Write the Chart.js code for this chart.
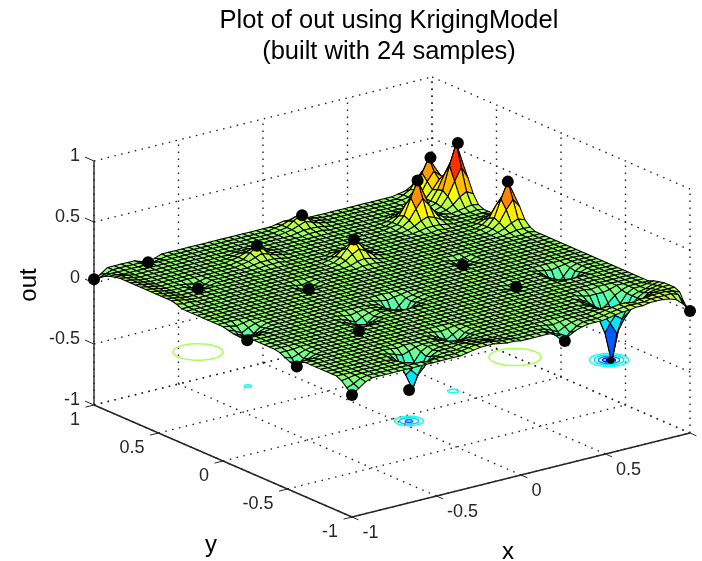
<!DOCTYPE html>
<html><head><meta charset="utf-8">
<style>html,body{margin:0;padding:0;background:#fff}canvas{display:block}</style>
<script src="https://cdn.jsdelivr.net/npm/chart.js@4"></script>
</head><body><canvas id="c" width="702" height="561"></canvas>
<script>
const titleLines = ['Plot of out using KrigingModel', '(built with 24 samples)'];
const xTicks = [-1, -0.5, 0, 0.5, 1];
const yTicks = [-1, -0.5, 0, 0.5, 1];
const zTicks = [-1, -0.5, 0, 0.5, 1];
const xTickLabels = ['-1', '-0.5', '0', '0.5', ''];
const yTickLabels = ['-1', '-0.5', '0', '0.5', '1'];
const zTickLabels = ['-1', '-0.5', '0', '0.5', '1'];

// black sample markers
const sampleX = [0.97, 0.93, 0.64, 0.96, 0.08, -0.28, 0.17, 0.73, -0.54, -0.91, -0.96, 0.29, -0.41, -0.2, -0.12, 0.76, -0.72, -0.31, 0.48, 0.46, -0.68, -1, -1, 1];
const sampleY = [0.76, 0.92, 0.64, 0.36, 0.4, 0.68, 0.92, -0.74, -0.84, -0.07, -0.52, -0.96, -0.28, -0.72, -0.2, -0.32, 0.56, 0.24, 0.08, -0.36, 1, 1, -1, -1];
const sampleZ = [0.58, 0.4, 0.44, 0.45, 0.26, 0.205, 0.19, -0.43, -0.19, -0.01, 0, -0.02, -0.01, -0.03, -0.1, -0.12, 0.06, 0.06, 0.06, 0.09, 0.06, 0.03, 0, 0];

// contour rings under the surface
const ringX = [-0.741, 0.408, -0.848, -0.12, -0.545, -0.545, -0.545, 0.736, 0.736, 0.736, 0.736, 0.736];
const ringY = [0.533, -0.419, 0.006, -0.63, -0.846, -0.846, -0.846, -0.718, -0.718, -0.718, -0.718, -0.718];
const ringR = [0.118, 0.123, 0.017, 0.025, 0.068, 0.045, 0.018, 0.092, 0.07, 0.05, 0.03, 0.014];
const ringLevel = [0.12, 0.12, -0.03, -0.02, -0.02, -0.1, -0.2, -0.02, -0.08, -0.16, -0.28, -0.42];
const contourPlane = -0.44;

// surface heights: flat level plus offsets in hundredths, one row per y from -1 to 1, columns x from -1 to 1
const flatLevel = 0.10;
const surfaceOffsets = [
[-10,-6,-2,0,0,0,0,0,0,0, 0,0,0,0,0,0,0,1,2,3, 3,3,2,1,1,0,0,0,0,0, -1,-3,-6,-3,-1,0,0,0,1,2, 3,3,4,4,5,5,5,4,2,-3,-10],
[-6,-4,-1,0,0,0,0,0,0,0, 0,0,-1,0,0,0,0,1,2,3, 3,3,2,1,1,0,0,0,0,0, -2,-6,-12,-6,-2,0,0,0,1,2, 3,4,4,4,4,5,5,5,5,3,-6],
[-2,-1,0,0,0,0,0,0,0,0, -1,-3,-5,-3,-1,0,0,0,1,2, 2,2,1,1,0,0,0,0,0,0, -1,-3,-6,-3,-1,0,0,0,1,2, 3,4,4,3,4,4,5,5,5,4,2],
[0,0,0,0,0,0,0,0,0,0, -3,-10,-16,-10,-3,0,0,0,1,1, 1,1,0,0,0,0,0,0,0,0, 0,-1,-2,-1,0,0,0,0,1,1, 2,-2,-3,-3,-3,-2,3,4,4,4,4],
[0,0,0,0,0,0,0,0,0,-1, -5,-16,-29,-16,-5,-1,0,0,0,0, 0,0,0,0,0,0,0,0,0,0, 0,0,0,0,0,0,0,0,0,0, -2,-5,-10,-14,-10,-5,-2,2,3,4,4],
[0,0,0,0,0,0,0,0,0,0, -3,-10,-16,-10,-3,0,0,0,0,-1, -2,-1,0,0,0,0,0,0,0,0, 0,0,0,0,0,0,0,0,0,0, -3,-10,-18,-28,-18,-10,-3,0,2,3,4],
[0,0,0,0,0,0,0,0,0,0, -1,-3,-5,-3,-1,0,0,0,-1,-4, -7,-4,-1,0,0,0,0,0,0,0, 0,0,0,0,0,0,0,0,0,-1, -3,-14,-28,-53,-28,-14,-3,-1,0,2,3],
[0,0,0,0,0,0,0,0,0,0, 0,0,-1,0,0,0,0,0,-2,-7, -13,-7,-2,0,0,0,0,0,0,0, 0,0,0,0,0,0,0,0,0,0, -3,-10,-18,-28,-18,-10,-3,0,0,1,2],
[0,0,0,0,0,0,0,0,0,0, 0,0,0,0,0,0,0,0,-1,-4, -7,-4,-1,0,0,0,0,0,0,0, 0,0,0,0,0,0,0,0,0,0, -2,-5,-10,-14,-10,-5,-2,0,0,0,0],
[0,0,0,0,0,0,0,0,0,0, 0,0,0,0,0,0,0,0,0,-1, -2,-1,0,0,0,0,0,0,0,0, 0,0,0,0,0,0,0,0,0,0, 0,-2,-3,-3,-3,-2,0,0,0,0,0],
[-1,-1,-1,0,0,0,0,0,0,0, 0,0,0,0,0,0,0,0,0,0, 0,0,0,0,0,0,0,0,0,0, 0,0,0,0,0,0,0,0,0,0, 0,0,0,-1,0,0,0,0,0,0,0],
[-3,-5,-3,-1,0,0,0,0,0,0, 0,0,0,0,0,0,0,0,0,0, 0,0,0,0,0,0,0,0,0,0, 0,0,0,0,0,0,0,0,0,0, 0,0,0,0,0,0,0,0,0,0,0],
[-5,-10,-5,-1,0,0,0,0,0,0, 0,0,0,0,0,0,0,0,0,0, 0,0,0,0,0,0,0,0,0,0, 0,0,0,0,0,0,0,0,0,0, 0,0,0,0,0,0,0,0,0,0,0],
[-3,-5,-3,-1,0,0,0,0,0,0, 0,0,0,0,0,0,0,0,0,0, 0,0,0,0,0,0,0,0,0,0, 0,0,0,0,0,0,0,0,0,0, 0,0,0,0,0,0,0,0,0,0,0],
[-1,-1,-1,0,0,0,0,0,0,0, 0,0,0,0,0,0,0,0,0,0, 0,0,0,0,0,0,0,0,0,0, 0,0,0,0,0,0,0,0,0,0, 0,0,0,0,0,0,0,0,0,0,0],
[0,0,0,0,0,0,0,0,0,0, 0,0,0,0,0,0,0,0,0,0, 0,0,0,0,0,0,0,0,0,0, 0,0,0,0,0,0,-1,0,0,0, 0,0,-1,-2,-3,-2,-1,0,0,0,0],
[0,0,0,0,0,0,0,0,0,0, 0,0,0,0,-1,-2,-1,0,0,0, 0,0,0,0,0,0,0,0,0,0, 0,0,0,0,0,-1,-2,-1,0,0, 0,0,-2,-8,-13,-8,-2,0,0,0,0],
[0,0,0,0,0,0,0,0,0,0, 0,0,0,-1,-3,-6,-3,-1,0,0, 0,0,0,0,0,0,0,0,0,0, 0,0,0,0,0,0,-1,0,0,0, 0,0,-3,-13,-22,-13,-3,0,0,0,0],
[0,0,0,0,0,0,0,0,0,0, 0,0,0,-2,-6,-11,-6,-2,0,0, -1,-2,-3,-2,-1,0,0,0,0,0, 0,0,0,0,0,0,0,0,0,0, 0,0,-2,-8,-13,-8,-2,0,0,0,0],
[0,0,0,0,0,0,0,0,0,0, 0,0,0,-1,-3,-6,-3,-1,0,-1, -2,-7,-12,-7,-2,-1,0,0,0,0, 0,0,0,0,0,0,0,0,0,0, 0,0,-1,-2,-3,-2,-1,0,0,0,0],
[0,0,0,0,0,0,0,0,0,0, 0,0,0,0,-1,-2,-1,0,0,-1, -3,-12,-20,-12,-3,-1,0,0,0,0, 0,0,0,0,0,0,0,0,0,0, 0,0,0,0,0,0,0,0,0,0,0],
[0,-1,-2,-1,0,0,0,0,0,0, 0,0,0,0,0,0,0,0,0,-1, -2,-7,-12,-7,-2,-1,0,0,0,0, 0,0,0,0,0,0,0,0,0,0, 0,0,0,0,0,0,0,0,0,0,0],
[-1,-3,-6,-3,-1,0,0,0,0,0, 0,0,0,0,0,0,0,0,0,0, -1,-2,-3,-2,-1,0,0,0,0,0, 0,0,0,0,0,0,0,0,0,0, 0,0,0,0,0,0,0,0,0,0,0],
[-2,-6,-11,-6,-2,0,0,0,0,0, 0,0,0,0,0,0,0,0,0,0, 0,0,0,0,0,0,0,0,0,0, 0,0,0,0,0,0,0,0,0,0, 0,0,0,0,0,0,0,0,0,0,0],
[-1,-3,-6,-3,-1,0,0,0,0,0, 0,0,0,0,0,0,0,0,0,0, 0,0,0,0,0,0,0,0,0,0, 0,0,0,0,0,0,0,0,0,0, 0,0,0,0,0,0,0,0,0,0,0],
[0,-1,-2,-1,0,0,0,0,0,0, 0,0,0,0,0,0,0,0,0,0, 0,0,0,0,0,0,0,0,0,0, 0,0,0,0,0,0,0,0,0,0, 0,0,0,0,0,0,0,0,0,0,0],
[0,0,0,0,0,0,0,0,0,0, 0,0,0,0,0,0,0,0,0,0, 0,0,0,0,0,0,0,0,0,0, 0,0,0,0,0,0,-1,-2,-1,0, 0,0,0,0,0,0,0,0,0,0,0],
[0,0,0,0,0,0,0,0,0,0, 0,0,0,0,0,0,0,0,0,0, 0,0,0,0,0,0,0,0,0,0, 0,0,0,0,0,0,-2,-4,-2,0, 0,0,0,0,0,0,0,0,0,0,0],
[0,0,0,0,0,0,0,0,0,0, 0,0,0,0,0,0,0,0,0,0, 0,0,0,0,0,0,0,0,0,0, 0,0,0,0,0,0,-1,-2,-1,0, 0,0,0,0,0,0,0,0,0,0,0],
[0,0,0,0,0,0,0,0,0,0, 0,0,0,0,0,0,0,0,0,0, 0,0,0,0,0,0,0,0,0,0, 0,0,0,0,0,0,0,0,0,0, 0,0,0,0,0,0,0,0,0,0,0],
[0,0,0,0,0,0,0,0,0,0, 0,0,0,0,0,0,-1,-2,-1,0, 0,0,0,0,0,0,0,0,0,0, 0,0,0,0,0,0,0,0,0,0, 0,0,0,0,0,0,0,0,0,1,0],
[0,0,0,0,0,0,0,0,0,0, 0,0,0,0,0,0,-2,-4,-2,0, 0,0,0,0,0,0,0,0,0,0, 0,0,0,0,0,0,0,0,0,0, 0,0,0,0,0,0,0,1,2,2,2],
[0,0,0,0,0,0,0,0,0,0, 0,0,0,0,0,0,-1,-2,-1,0, 0,0,0,0,0,0,1,1,1,0, 0,0,0,0,0,0,0,0,0,0, 0,0,0,0,0,0,1,3,6,8,6],
[0,0,0,0,0,0,0,0,0,0, 0,0,0,0,0,0,0,0,0,0, 0,0,0,0,0,1,3,4,3,1, 0,0,0,0,0,0,0,0,0,0, 0,0,0,0,0,0,2,6,15,22,15],
[2,1,1,0,0,0,0,0,0,0, 0,0,0,0,0,0,0,0,0,0, 0,0,0,0,1,3,7,10,7,3, 1,0,0,0,0,0,0,0,0,0, 0,0,0,0,0,1,2,8,22,35,22],
[3,2,1,0,0,0,0,0,0,0, 0,0,0,0,0,0,0,0,0,0, 0,0,0,0,1,4,10,16,10,4, 1,0,0,0,0,0,0,0,0,0, 0,0,0,0,0,0,2,6,15,22,15],
[3,2,1,0,0,0,0,0,0,0, 0,0,0,0,0,0,0,0,0,0, 0,0,0,0,1,3,7,10,7,3, 1,0,0,0,0,0,0,0,0,0, 0,0,0,0,0,0,1,3,6,8,6],
[3,2,1,0,0,0,0,0,0,0, 0,0,0,0,0,0,0,0,0,0, 0,0,0,0,0,1,3,4,3,1, 0,0,0,0,0,0,0,0,0,0, 0,1,0,0,0,0,0,1,2,2,2],
[3,2,1,0,0,0,-1,-2,-1,0, 0,0,0,0,0,0,0,0,0,0, 0,0,0,0,0,0,1,1,1,0, 0,0,0,0,0,0,0,0,0,1, 2,2,2,1,0,0,0,0,0,1,0],
[3,2,1,0,0,0,-2,-4,-2,0, 0,0,0,0,0,0,0,1,1,1, 0,0,0,0,0,0,0,0,0,0, 0,0,0,0,0,0,0,0,1,3, 6,8,6,3,1,0,0,0,0,0,0],
[3,2,1,0,0,0,-1,-2,-1,0, 0,0,0,0,0,0,1,2,2,2, 1,0,0,0,0,0,0,0,0,0, 0,0,0,0,0,0,0,0,2,6, 14,21,14,6,2,0,0,0,0,1,0],
[3,2,1,0,0,0,0,0,0,0, 0,0,0,0,0,1,2,4,6,4, 2,1,0,0,0,0,0,0,0,0, 0,0,0,0,0,0,0,1,2,8, 21,34,21,8,2,1,0,1,2,3,2],
[3,2,1,0,0,0,0,0,0,0, 0,0,0,0,0,1,2,6,10,6, 2,1,0,0,0,0,0,0,0,0, 0,0,0,0,0,0,0,0,2,6, 14,21,14,6,2,0,1,4,9,12,9],
[3,2,1,0,0,0,0,0,0,0, 0,0,0,0,0,1,2,4,6,4, 2,1,0,0,0,0,0,0,0,0, 0,0,0,0,0,0,0,0,1,3, 6,8,6,3,1,0,2,9,20,30,20],
[3,2,1,0,0,0,0,0,0,0, 0,0,0,0,0,0,1,2,2,2, 1,0,0,0,0,0,0,0,0,0, 0,0,0,0,0,0,0,0,0,1, 2,2,2,1,0,1,3,12,31,48,30],
[3,2,1,0,0,0,0,0,0,0, 0,0,0,0,0,0,0,1,1,1, 0,0,0,0,0,0,0,0,1,1, 1,0,0,0,0,0,0,0,0,0, 0,1,0,0,0,0,3,11,22,32,21],
[2,2,1,0,0,0,0,0,0,0, 0,0,0,0,0,0,0,0,0,0, 0,0,0,0,0,0,0,1,2,2, 2,1,0,0,0,0,0,0,0,0, 0,0,0,0,0,1,3,9,16,17,11],
[1,1,0,0,0,0,0,0,0,0, 0,0,0,0,0,0,0,0,0,0, 0,0,0,0,0,0,1,2,4,6, 4,2,1,0,0,0,0,0,0,0, 0,0,0,0,0,2,5,14,21,16,7],
[-1,0,0,0,0,0,0,0,0,0, 0,0,0,0,0,0,0,0,0,0, 0,0,0,0,0,0,1,2,6,9, 6,2,1,0,0,0,0,0,0,0, 0,0,0,0,1,2,7,19,30,20,7],
[-4,-2,0,0,0,0,0,-1,-2,-1, 0,0,0,0,0,0,0,0,0,0, 0,0,0,0,0,0,1,2,4,6, 4,2,1,0,0,0,0,0,0,0, 0,0,0,0,0,2,5,13,19,13,5],
[-7,-4,0,0,0,0,0,-2,-4,-2, 0,0,0,0,0,0,0,0,0,0, 0,0,0,0,0,0,0,1,2,2, 2,1,0,0,0,0,0,0,0,0, 0,0,0,0,0,1,2,5,7,5,2]
];

const colorMin = -0.44, colorMax = 0.6;
const fontFace = '"Liberation Sans", Arial, sans-serif';
const inkColor = '#262626';

// oblique view of the 3D box onto the chart's two linear scales
function project(x, y, z) {
  return { x: 392 + 169 * x - 129 * y, y: 297 - 42 * x - 56 * y - 122 * z };
}
function jet(z) {
  const t = Math.max(0, Math.min(1, (z - colorMin) / (colorMax - colorMin)));
  const ch = c => Math.round(255 * Math.max(0, Math.min(1, 1.5 - Math.abs(4 * t - c))));
  return `rgb(${ch(3)},${ch(2)},${ch(1)})`;
}
function surfaceZ(i, j) { return flatLevel + ((surfaceOffsets[j] || [])[i] || 0) / 100; }

const cells = surfaceOffsets.length - 1;
const gridCoord = k => -1 + 2 * k / cells;

const datasets = [];
// samples first: Chart.js paints the first dataset last
datasets.push({
  label: 'samples',
  data: sampleX.map((x, k) => project(x, sampleY[k], sampleZ[k])),
  pointBackgroundColor: '#000', pointBorderColor: '#000', pointBorderWidth: 0,
  pointRadius: sampleX.map((x, k) => (k === 13 || k === 14 || k === 15) ? 0 : (k === 7 ? 3.5 : 6)),
  showLine: false, clip: false
});
function lineSet(points, color, width, dash) {
  datasets.push({ data: points, showLine: true, borderColor: color, borderWidth: width,
    borderDash: dash || [], pointRadius: 0, clip: false, tension: 0 });
}
// axes and tick marks
lineSet([project(-1, 1, -1), project(-1, 1, 1)], inkColor, 1.4);
lineSet([project(-1, 1, -1), project(-1, -1, -1)], inkColor, 1.4);
lineSet([project(-1, -1, -1), project(1, -1, -1)], inkColor, 1.4);
zTicks.forEach(t => lineSet([project(-1, 1, t), project(-1, 1.07, t)], inkColor, 1));
yTicks.forEach(t => lineSet([project(-1, t, -1), project(-1.05, t, -1)], inkColor, 1));
xTicks.forEach(t => lineSet([project(t, -1, -1), project(t, -1.05, -1)], inkColor, 1));
// contour rings on their plane
ringX.forEach((cx, k) => {
  const pts = [];
  for (let a = 0; a <= 36; a++) {
    const th = a / 36 * 2 * Math.PI;
    pts.push(project(cx + ringR[k] * Math.cos(th), ringY[k] + ringR[k] * Math.sin(th), contourPlane));
  }
  lineSet(pts, jet(ringLevel[k]), 1.5);
});
// dotted grid on the floor and two back walls
const dot = [1.5, 5.5];
xTicks.forEach(t => {
  lineSet([project(t, -1, -1), project(t, 1, -1)], '#222', 1.4, dot);
  lineSet([project(t, 1, -1), project(t, 1, 1)], '#222', 1.4, dot);
});
yTicks.forEach(t => {
  lineSet([project(-1, t, -1), project(1, t, -1)], '#222', 1.4, dot);
  lineSet([project(1, t, -1), project(1, t, 1)], '#222', 1.4, dot);
});
zTicks.forEach(t => {
  lineSet([project(-1, 1, t), project(1, 1, t)], '#222', 1.4, dot);
  lineSet([project(1, 1, t), project(1, -1, t)], '#222', 1.4, dot);
});

const surfacePlugin = {
  id: 'surface',
  beforeDatasetDraw(chart, args) {
    if (args.index !== 0) return;
    const { ctx, scales } = chart;
    const px = (i, j) => {
      const p = project(gridCoord(i), gridCoord(j), surfaceZ(i, j));
      return [scales.x.getPixelForValue(p.x), scales.y.getPixelForValue(p.y)];
    };
    ctx.save();
    ctx.lineWidth = 1.05;
    ctx.strokeStyle = '#000';
    ctx.lineJoin = 'round';
    // far corner first, near corner last
    for (let i = cells - 1; i >= 0; i--) {
      for (let j = cells - 1; j >= 0; j--) {
        const a = px(i, j), b = px(i + 1, j), c = px(i + 1, j + 1), d = px(i, j + 1);
        const zAvg = (surfaceZ(i, j) + surfaceZ(i + 1, j) + surfaceZ(i + 1, j + 1) + surfaceZ(i, j + 1)) / 4;
        ctx.beginPath();
        ctx.moveTo(a[0], a[1]); ctx.lineTo(b[0], b[1]); ctx.lineTo(c[0], c[1]); ctx.lineTo(d[0], d[1]);
        ctx.closePath();
        ctx.fillStyle = jet(zAvg);
        ctx.fill();
        ctx.stroke();
      }
    }
    ctx.restore();
  },
  afterDraw(chart) {
    const { ctx, scales } = chart;
    const X = v => scales.x.getPixelForValue(v), Y = v => scales.y.getPixelForValue(v);
    ctx.save();
    ctx.fillStyle = inkColor;
    ctx.font = '18px ' + fontFace;
    ctx.textBaseline = 'middle';
    ctx.textAlign = 'right';
    zTicks.forEach((t, k) => { const p = project(-1, 1, t); ctx.fillText(zTickLabels[k], X(p.x) - 14, Y(p.y) - 5); });
    yTicks.forEach((t, k) => { const p = project(-1, t, -1); ctx.fillText(yTickLabels[k], X(p.x) - 14, Y(p.y) + 15); });
    ctx.textAlign = 'left';
    xTicks.forEach((t, k) => { const p = project(t, -1, -1); ctx.fillText(xTickLabels[k], X(p.x) + 10.5, Y(p.y) + 16); });
    ctx.fillStyle = '#000';
    ctx.font = '24px ' + fontFace;
    ctx.textAlign = 'center';
    ctx.fillText('y', 211, 545);
    ctx.fillText('x', 508, 552);
    ctx.translate(29, 285);
    ctx.rotate(-Math.PI / 2);
    ctx.fillText('out', 0, 0);
    ctx.restore();
  }
};

new Chart(document.getElementById('c'), {
  type: 'scatter',
  data: { datasets },
  plugins: [surfacePlugin],
  options: {
    responsive: false,
    animation: false,
    layout: { autoPadding: false, padding: { left: 76, top: 0, right: 0, bottom: 0 } },
    plugins: {
      legend: { display: false },
      tooltip: { enabled: false },
      title: {
        display: true,
        text: titleLines,
        color: '#000',
        font: { family: fontFace, size: 25.5, weight: 'normal', lineHeight: 1.24 },
        padding: { top: 5, bottom: 3.76 }
      }
    },
    scales: {
      x: { type: 'linear', display: false, min: 76, max: 702 },
      y: { type: 'linear', display: false, min: 72, max: 561, reverse: true }
    }
  }
});
</script></body></html>
